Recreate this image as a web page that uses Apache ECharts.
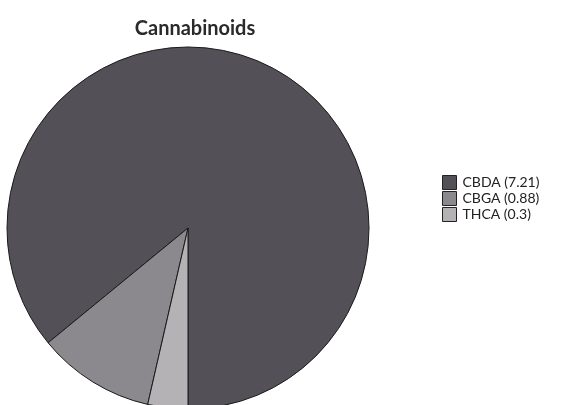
<!DOCTYPE html>
<html>
<head>
<meta charset="utf-8">
<script src="https://cdn.jsdelivr.net/npm/echarts@6/dist/echarts.min.js"></script>
<style>html,body{margin:0;padding:0;background:#fff;}#c{width:562px;height:405px;}</style>
</head>
<body>
<div id="c"></div>
<script>
const categories = ['CBDA', 'CBGA', 'THCA'];
const values = [7.21, 0.88, 0.3];
const colors = ['#545057', '#8b898d', '#b4b2b5'];

const chart = echarts.init(document.getElementById('c'), null, {renderer: 'canvas'});
chart.setOption({
  animation: false,
  backgroundColor: '#ffffff',
  title: {
    text: 'Cannabinoids',
    left: 190, top: 14, textAlign: 'center',
    textStyle: {fontFamily: 'Lato', fontWeight: 'bold', fontSize: 20, color: '#2a2a2a'}
  },
  legend: {
    orient: 'vertical', left: 442, top: 175,
    itemWidth: 14, itemHeight: 14, itemGap: 1, padding: 0,
    icon: 'rect',
    data: categories,
    formatter: function (name) {
      return name + ' (' + values[categories.indexOf(name)] + ')';
    },
    textStyle: {fontFamily: 'Lato', fontSize: 14, color: '#222', padding: [0, 0, 0, 1]},
    itemStyle: {borderColor: '#222', borderWidth: 1}
  },
  series: [{
    type: 'pie',
    center: [188, 228],
    radius: 181,
    startAngle: 270,
    clockwise: false,
    label: {show: false},
    labelLine: {show: false},
    emphasis: {disabled: true},
    itemStyle: {borderColor: '#1a1a1a', borderWidth: 1},
    data: categories.map((c, i) => ({name: c, value: values[i], itemStyle: {color: colors[i]}}))
  }]
});
</script>
</body>
</html>
